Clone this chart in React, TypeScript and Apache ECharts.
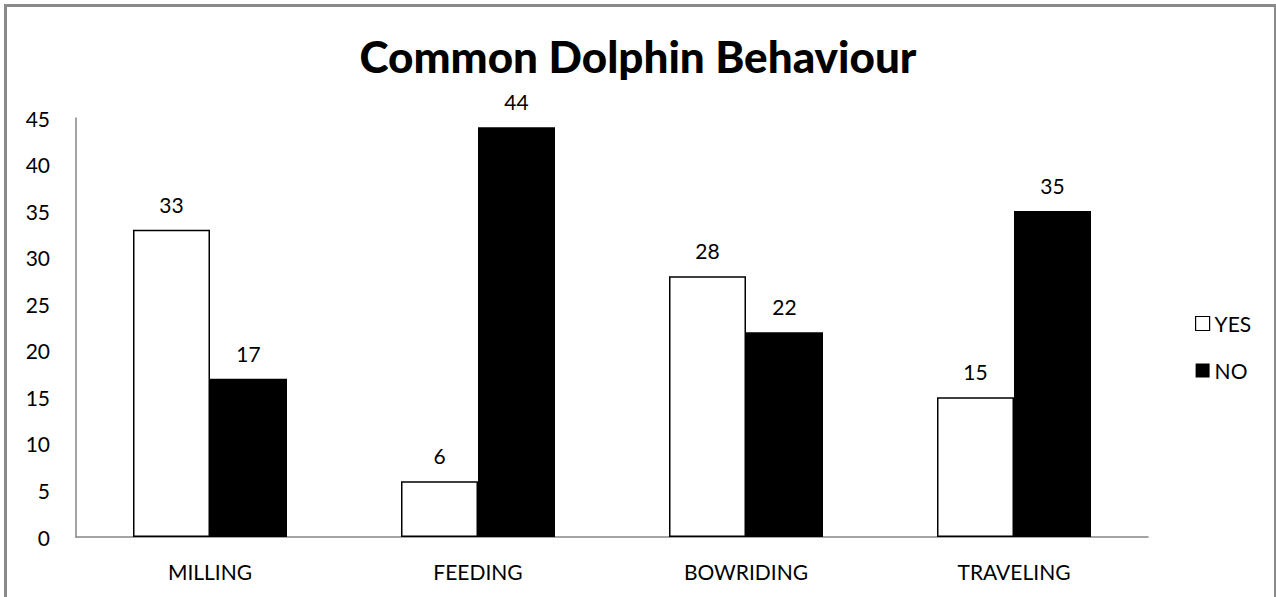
import React, { useEffect, useRef } from "react";
import * as echarts from "echarts";

// Observed behaviour counts for common dolphins
const behaviours = ["MILLING", "FEEDING", "BOWRIDING", "TRAVELING"];
const yesCounts = [33, 6, 28, 15];
const noCounts = [17, 44, 22, 35];
const seriesNames = ["YES", "NO"];

const FONT = "Lato, 'Open Sans', sans-serif";

export default function App() {
  const ref = useRef<HTMLDivElement>(null);

  useEffect(() => {
    if (!ref.current) return;
    const chart = echarts.init(ref.current, null, { renderer: "svg" });
    const labelStyle = {
      show: true,
      position: "top" as const,
      distance: 15,
      color: "#000",
      fontSize: 21,
      fontFamily: FONT,
    };
    chart.setOption({
      animation: false,
      backgroundColor: "#fff",
      title: {
        text: "Common Dolphin Behaviour",
        left: "center",
        top: 29,
        textStyle: {
          fontFamily: FONT,
          fontWeight: 900,
          fontSize: 44,
          color: "#000",
        },
      },
      legend: {
        orient: "vertical",
        left: 1190,
        top: 308,
        itemWidth: 14,
        itemHeight: 14,
        itemGap: 26,
        textStyle: {
          fontFamily: FONT,
          fontSize: 21,
          color: "#000",
          padding: [0, 0, 0, 0],
        },
        data: [
          {
            name: seriesNames[0],
            icon: "rect",
            itemStyle: { color: "#fff", borderColor: "#000", borderWidth: 1.2 },
          },
          {
            name: seriesNames[1],
            icon: "rect",
            itemStyle: { color: "#000", borderWidth: 0 },
          },
        ],
      },
      grid: { left: 76, right: 128, top: 118, bottom: 60 },
      xAxis: {
        type: "category",
        data: behaviours,
        axisLine: { show: true, lineStyle: { color: "#868686", width: 1.5 } },
        axisTick: { show: false },
        axisLabel: {
          margin: 24,
          color: "#000",
          fontSize: 21,
          fontFamily: FONT,
        },
      },
      yAxis: {
        type: "value",
        min: 0,
        max: 45,
        interval: 5,
        axisLine: { show: true, lineStyle: { color: "#868686", width: 1.5 } },
        axisTick: { show: false },
        splitLine: { show: false },
        axisLabel: {
          margin: 26,
          color: "#000",
          fontSize: 21,
          fontFamily: FONT,
        },
      },
      series: [
        {
          name: seriesNames[0],
          type: "bar",
          data: yesCounts,
          barWidth: 77,
          barGap: "0%",
          itemStyle: { color: "#fff", borderColor: "#000", borderWidth: 1.5 },
          label: labelStyle,
        },
        {
          name: seriesNames[1],
          type: "bar",
          data: noCounts,
          barWidth: 77,
          barGap: "0%",
          itemStyle: { color: "#000" },
          label: labelStyle,
        },
      ],
      graphic: [
        {
          type: "rect",
          silent: true,
          shape: { x: 5.5, y: 5.5, width: 1270, height: 700 },
          style: { fill: "none", stroke: "#8a8a8a", lineWidth: 3 },
        },
      ],
    });
    return () => chart.dispose();
  }, []);

  return (
    <div
      ref={ref}
      style={{ position: "fixed", left: 0, top: 0, width: 1276, height: 597 }}
    />
  );
}
